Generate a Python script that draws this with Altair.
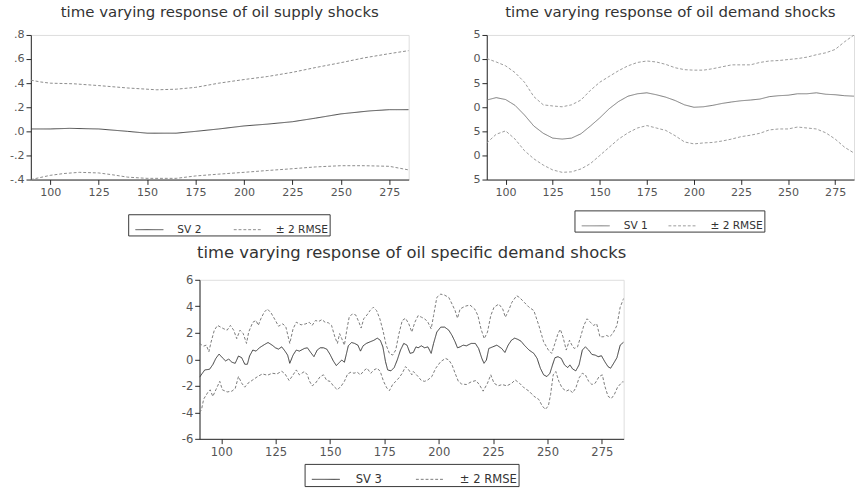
import altair as alt
import pandas as pd

FONT = "DejaVu Sans"

# ---------------- Panel 1: oil supply shocks ----------------
p1_sv_x = [90, 100, 110, 125, 140, 150, 165, 175, 187, 200, 212, 225, 237, 250, 265, 275, 285]
p1_sv_y = [0.02, 0.02, 0.025, 0.02, 0.0, -0.015, -0.015, 0.0, 0.02, 0.045, 0.06, 0.08, 0.11, 0.145, 0.17, 0.18, 0.18]
p1_up_x = [90, 95, 100, 112, 125, 140, 155, 165, 175, 187, 200, 212, 225, 237, 250, 262, 275, 285]
p1_up_y = [0.425, 0.41, 0.40, 0.395, 0.38, 0.36, 0.345, 0.35, 0.365, 0.40, 0.43, 0.455, 0.49, 0.53, 0.57, 0.61, 0.645, 0.67]
p1_lo_x = [90, 100, 107, 115, 125, 132, 140, 150, 165, 175, 187, 200, 212, 225, 237, 250, 262, 275, 285]
p1_lo_y = [-0.40, -0.365, -0.35, -0.34, -0.345, -0.36, -0.38, -0.39, -0.39, -0.37, -0.355, -0.34, -0.325, -0.31, -0.295, -0.285, -0.285, -0.29, -0.32]

# ---------------- Panel 2: oil demand shocks ----------------
p2_x = [90, 95, 100, 105, 110, 115, 120, 125, 130, 135, 140, 145, 150, 155, 160, 165, 170, 175, 180, 185,
        190, 195, 200, 205, 210, 215, 220, 225, 230, 235, 240, 245, 250, 255, 260, 265, 270, 275, 280, 285]
p2_sv_y = [1.5, 2.0, 1.6, 0.4, -1.6, -3.9, -5.4, -6.4, -6.6, -6.4, -5.5, -3.9, -2.2, -0.3, 1.2, 2.3, 2.8, 3.0, 2.6, 2.1,
           1.4, 0.5, 0.0, 0.1, 0.4, 0.8, 1.1, 1.35, 1.5, 1.7, 2.2, 2.4, 2.5, 2.8, 2.8, 3.0, 2.7, 2.6, 2.4, 2.3]
p2_up_y = [10.1, 9.4, 8.6, 7.2, 5.2, 2.2, 0.5, 0.27, 0.1, 0.5, 1.5, 3.5, 5.2, 6.4, 7.6, 8.6, 9.3, 9.6, 9.4, 8.9,
           8.2, 7.8, 7.7, 7.7, 8.0, 8.4, 8.8, 8.8, 8.8, 9.3, 9.6, 9.7, 9.9, 10.1, 10.4, 10.9, 11.3, 12.0, 13.6, 15.0]
p2_lo_y = [-7.4, -5.6, -4.9, -6.6, -9.0, -10.7, -12.0, -13.0, -13.5, -13.4, -12.8, -11.7, -10.0, -8.3, -6.6, -5.3, -4.3, -3.8, -4.3, -4.8,
           -5.9, -7.2, -7.6, -7.4, -7.3, -7.0, -6.6, -6.1, -5.8, -5.4, -4.7, -4.5, -4.5, -4.1, -4.3, -4.5, -5.3, -6.6, -8.3, -9.5]

# ---------------- Panel 3: oil specific demand shocks ----------------
p3_sv_x = [90, 92.4, 94.6, 96.1, 97.5, 99, 100.5, 102, 103.4, 104.9, 106.4, 107.9, 109.4, 110.8, 112, 113, 114.5, 116, 117.5, 119.7,
           121.5, 123.4, 124.9, 126.3, 127.8, 129.3, 130.5, 131.5, 133, 134.5, 135.9, 138.2, 139.6, 141.1, 142.6, 144.1, 145.5, 147, 148.5, 150,
           151.5, 152.9, 154.4, 155.4, 156.6, 157.4, 158.4, 159.9, 161.3, 162.8, 164, 165.2, 166.7, 168.4, 170.2, 171.7, 173.1, 174.3, 175.5, 176.5,
           178, 179.5, 180.9, 182.4, 183.9, 185.4, 186.8, 188.3, 189.5, 190.5, 192, 193.5, 195, 196.5, 197.6, 199.1, 200.9, 202.7, 204.6, 206.1,
           207.5, 208.6, 209.8, 211.2, 212.7, 214.9, 216.8, 218.3, 219.8, 220.8, 221.9, 223, 224.8, 226.7, 228.9, 230.4, 231.9, 233.4, 234.9, 236.4,
           237.8, 239.3, 241.5, 243.7, 245.2, 246.7, 248.2, 249.7, 251.1, 252.3, 253.4, 254.8, 256.3, 257.8, 259.3, 260.3, 261.5, 263, 264.5, 266,
           267.4, 268.9, 270.4, 271.9, 273.3, 274.8, 276.3, 277.8, 279, 280.4, 281.9, 283.4, 285]
p3_sv_y = [-1.35, -0.8, -0.75, -0.4, 0.07, 0.4, 0.12, -0.12, 0.02, -0.22, -0.3, 0.25, 0.12, -0.37, -0.37, 0.25, 0.7, 0.62, 0.87, 1.1,
           1.27, 1.07, 0.87, 0.77, 0.94, 0.62, 0.32, -0.3, 0.32, 0.7, 0.62, 0.82, 0.87, 0.52, 0.2, 0.7, 0.87, 0.87, 0.77, 0.37,
           -0.12, -0.47, -0.22, -0.05, -0.22, 0.32, 1.02, 1.27, 1.2, 1.07, 0.62, 1.02, 1.2, 1.32, 1.44, 1.6, 1.44, 0.94, -0.17, -0.8,
           -0.87, -0.62, -0.05, 0.7, 1.2, 1.07, 0.45, 0.52, 0.94, 0.87, 1.02, 0.87, 0.94, 0.45, 1.2, 2.06, 2.43, 2.43, 2.2, 1.8,
           1.32, 0.87, 0.94, 1.07, 1.02, 1.2, 1.2, 0.82, 0.07, -0.3, -0.05, 0.82, 0.94, 1.07, 0.82, 0.52, 1.07, 1.44, 1.6, 1.5,
           1.37, 1.07, 0.7, 0.45, 0.07, -0.67, -1.17, -1.3, -1.05, -0.42, 0.12, 0.2, 0.07, -0.42, -0.62, -0.42, -0.72, -0.87, -0.42, 0.7,
           0.94, 0.7, 0.37, 0.32, 0.2, 0.27, -0.17, -0.55, -0.67, -0.3, 0.12, 1.07, 1.3]
p3_up_x = [90, 90.9, 91.9, 93.1, 94.3, 95.3, 96.8, 98.3, 99.7, 101.2, 102.7, 104.2, 105.7, 107.1, 108.6, 110.1, 111.6, 112.6, 114.5, 116,
           117, 118.2, 119.7, 121.2, 122.9, 124.9, 126.3, 128.3, 129.7, 131.5, 133, 134.5, 136.7, 138.9, 140.4, 141.8, 143.3, 144.8, 146.3, 147.7,
           149.2, 150.7, 152.2, 153.4, 154.4, 155.4, 156.6, 157.8, 158.8, 160.3, 161.8, 163.3, 164.3, 165.5, 167, 168.4, 169.9, 171.4, 172.9, 174.3,
           175.8, 177.3, 178.8, 180.2, 181.7, 183.2, 184.7, 186.2, 187.6, 189, 190.5, 192, 193.5, 195, 196.5, 197.6, 199.1, 200.9, 202.7, 204.6,
           206.1, 207.5, 208.6, 209.8, 212, 214.3, 216.5, 218, 219.4, 220.9, 222.4, 223.9, 225.4, 227.6, 229.4, 230.6, 232.1, 233.6, 235.8, 237.1,
           239.3, 241.5, 243.7, 246, 248.2, 250.4, 251.9, 253.4, 254.8, 255.9, 257.1, 258.6, 260.1, 261.2, 262.3, 263.8, 265.2, 266.7, 268.2, 269.7,
           271.1, 272.6, 274.1, 275.6, 277.1, 278.5, 280, 281.9, 283.4, 285]
p3_up_y = [1.2, 1.1, 1.0, 1.07, 0.57, 1.3, 2.2, 2.56, 2.43, 2.3, 2.2, 2.56, 2.2, 1.56, 2.2, 1.94, 1.2, 2.06, 2.8, 2.93,
           2.56, 3.06, 3.55, 3.8, 3.5, 2.93, 2.5, 2.68, 2.43, 1.2, 2.3, 2.8, 2.6, 2.68, 2.8, 2.56, 2.93, 2.86, 3.0, 2.8,
           2.76, 2.56, 1.7, 1.2, 1.94, 1.56, 1.07, 2.3, 3.18, 3.43, 3.35, 2.8, 2.36, 3.06, 3.35, 3.68, 3.93, 3.68, 3.06, 2.2,
           1.07, 0.45, 0.32, 0.7, 1.94, 2.93, 3.1, 2.68, 2.06, 2.8, 3.3, 3.18, 3.06, 2.8, 2.3, 3.3, 4.67, 4.92, 4.84, 4.67,
           4.17, 3.68, 3.1, 3.8, 4.0, 4.1, 3.8, 3.3, 2.3, 1.56, 2.06, 3.3, 3.93, 4.17, 3.8, 3.18, 3.68, 4.3, 4.8, 4.67,
           4.3, 3.93, 3.68, 2.56, 1.32, 0.7, 0.45, 1.2, 1.94, 2.26, 1.7, 0.7, 1.44, 1.07, 0.82, 0.94, 1.7, 2.56, 3.06, 2.8,
           2.56, 2.68, 1.7, 1.7, 1.8, 1.7, 1.94, 2.56, 3.93, 4.6]
p3_lo_x = [90, 90.9, 91.9, 93.8, 94.9, 96.1, 97.5, 99.3, 100.5, 102.7, 104.9, 106.4, 107.9, 109.4, 110.8, 112.3, 114.5, 116.7, 118.9, 121.2,
           123.4, 125.6, 127.8, 129.3, 131.2, 132.7, 134.5, 135.9, 138.2, 139.6, 140.4, 141.8, 143.3, 145.5, 147, 148.5, 150, 151.5, 153.4, 155.2,
           156.6, 158.1, 159.6, 161, 162.5, 164, 165.5, 167, 168.7, 170.2, 171.7, 173.1, 174.6, 176.1, 177.3, 178.8, 180.2, 181.7, 183.2, 184.7,
           186.2, 187.6, 188.3, 190.5, 192, 193.5, 195, 196.8, 198.6, 200.9, 203.1, 204.6, 206.1, 207.5, 209, 210.5, 212.7, 214.9, 217.1, 218.6,
           220.4, 222.4, 223.9, 225.4, 227.3, 229.1, 231.3, 233.6, 235.1, 237.1, 239.3, 241.5, 243.7, 246, 247.5, 249, 250.4, 251.4, 252.6, 253.8,
           255.2, 256.7, 258.6, 260.1, 261.5, 263, 264.5, 266, 267.4, 268.9, 270.4, 271.9, 273.7, 275.2, 276.3, 277.8, 279.3, 280.7, 282.2, 284.4,
           285]
p3_lo_y = [-4.0, -3.8, -3.0, -2.5, -2.3, -2.8, -2.3, -1.66, -2.3, -2.46, -2.4, -2.2, -1.3, -1.8, -2.1, -1.8, -1.55, -1.3, -1.1, -1.2,
           -1.05, -1.1, -0.9, -1.1, -1.6, -1.25, -0.8, -1.17, -0.92, -1.17, -1.6, -2.0, -1.8, -1.3, -1.17, -1.6, -1.66, -2.0, -2.3, -2.0,
           -1.66, -1.1, -0.97, -1.05, -0.97, -1.17, -0.87, -0.67, -1.05, -0.8, -0.67, -0.92, -1.66, -2.16, -2.36, -1.9, -1.66, -1.4, -1.05, -0.55,
           -0.8, -1.17, -0.92, -1.3, -1.6, -1.66, -1.55, -1.3, -0.67, -0.17, 0.07, -0.05, -0.42, -1.05, -1.66, -1.86, -1.9, -1.7, -1.6, -1.9,
           -2.4, -1.8, -1.17, -1.8, -2.0, -1.9, -2.0, -1.8, -1.55, -1.8, -2.16, -2.4, -2.78, -3.03, -3.5, -3.78, -3.5, -2.66, -1.17, -0.92,
           -1.66, -2.16, -2.4, -2.28, -2.53, -2.16, -1.4, -1.05, -1.17, -1.66, -1.9, -1.8, -1.3, -1.17, -2.0, -2.78, -2.96, -2.66, -2.1, -1.7,
           -1.7]

x_ticks = [100, 125, 150, 175, 200, 225, 250, 275]
p1_ticks = [-0.4, -0.2, 0.0, 0.2, 0.4, 0.6, 0.8]
p2_ticks = [-15, -10, -5, 0, 5, 10, 15]
p3_ticks = [-6, -4, -2, 0, 2, 4, 6]

band_label = "± 2 RMSE"


def frame(sv_label, sv_x, sv_y, up_x, up_y, lo_x, lo_y):
    rows = []
    for xs, ys, ser, part in [(sv_x, sv_y, sv_label, "sv"), (up_x, up_y, band_label, "up"), (lo_x, lo_y, band_label, "lo")]:
        assert len(xs) == len(ys), (sv_label, part, len(xs), len(ys))
        for a, b in zip(xs, ys):
            rows.append({"x": a, "y": b, "series": ser, "part": part})
    return pd.DataFrame(rows)


def panel(df, sv_label, title, title_size, title_offset, ydomain, yticks, ylabel_expr, width, height,
          colors, legend_x, legend_y, tick_size, leg_size, leg_off, leg_col):
    legend = alt.Legend(
        orient="none", legendX=legend_x, legendY=legend_y, direction="horizontal", title=None,
        strokeColor="#333", fillColor="white", padding=1, symbolOffset=6, symbolType="stroke", symbolSize=841,
        symbolStrokeWidth=1, labelFont=FONT, labelFontSize=leg_size, labelColor="#333",
        labelOffset=leg_off, columnPadding=leg_col,
    )
    xaxis = alt.Axis(values=x_ticks, format="d", labelPadding=3, labelFont=FONT, labelFontSize=tick_size,
                     labelColor="#555", tickColor="#222", tickSize=5, domainColor="#222", grid=False, title=None)
    yaxis = alt.Axis(values=yticks, labelExpr=ylabel_expr, labelPadding=2, labelFont=FONT, labelFontSize=tick_size,
                     labelColor="#555", tickColor="#222", tickSize=5, domainColor="#222", grid=False, title=None)
    return alt.Chart(df).mark_line(strokeWidth=1, clip=True).encode(
        x=alt.X("x:Q", scale=alt.Scale(domain=[90, 285], nice=False, zero=False), axis=xaxis),
        y=alt.Y("y:Q", scale=alt.Scale(domain=ydomain, nice=False, zero=False), axis=yaxis),
        color=alt.Color("series:N", scale=alt.Scale(domain=[sv_label, band_label], range=colors), legend=legend),
        strokeDash=alt.StrokeDash("series:N", scale=alt.Scale(domain=[sv_label, band_label], range=[[1, 0], [3, 2]]), legend=legend),
        detail="part:N",
    ).properties(
        width=width, height=height,
        title=alt.TitleParams(title, font=FONT, fontSize=title_size, fontWeight="normal", color="#333",
                              offset=title_offset, anchor="middle", baseline="alphabetic"),
    )


df1 = frame("SV 2", p1_sv_x, p1_sv_y, p1_up_x, p1_up_y, p1_lo_x, p1_lo_y)
df2 = frame("SV 1", p2_x, p2_sv_y, p2_x, p2_up_y, p2_x, p2_lo_y)
df3 = frame("SV 3", p3_sv_x, p3_sv_y, p3_up_x, p3_up_y, p3_lo_x, p3_lo_y)

lab1 = "replace(replace(replace(format(datum.value, '.1f'), '\u2212', '-'), '0.', '.'), '-0.', '-.')"
lab2 = "slice(toString(abs(datum.value)), -1)"
lab3 = "toString(datum.value)"

c1 = panel(df1, "SV 2", "time varying response of oil supply shocks", 15.5, -3, [-0.4, 0.8], p1_ticks, lab1,
           392, 150, ["#444", "#888"], 101, 186, 11.5, 11, 14, 26)
c2 = panel(df2, "SV 1", "time varying response of oil demand shocks", 15.5, -3, [-15, 15], p2_ticks, lab2,
           381, 150, ["#777", "#999"], 91, 182, 11.5, 11, 14, 14)
c3 = panel(df3, "SV 3", "time varying response of oil specific demand shocks", 17, 0, [-6, 6], p3_ticks, lab3,
           440, 165, ["#333", "#777"], 109, 191, 12, 12, 16, 28)

spacer = alt.Chart(pd.DataFrame({"a": [0]})).mark_point(opacity=0).encode(
    x=alt.value(0), y=alt.value(0)
).properties(width=154, height=1, view=alt.ViewBackground(stroke="transparent"))

top = alt.hconcat(c1, c2, spacing=65).resolve_scale(color="independent", strokeDash="independent").resolve_legend(
    color="independent", strokeDash="independent")
bottom = alt.hconcat(spacer, c3, spacing=0).resolve_scale(color="independent", strokeDash="independent").resolve_legend(
    color="independent", strokeDash="independent")
chart = alt.vconcat(top, bottom, spacing=7).resolve_scale(color="independent", strokeDash="independent").resolve_legend(
    color="independent", strokeDash="independent").properties(
    padding={"left": 9, "top": -4, "right": 0, "bottom": 0}
).configure_view(stroke="#999", strokeWidth=1).configure(background="white")

chart.save("out.html", embed_options={"renderer": "svg", "actions": False})
